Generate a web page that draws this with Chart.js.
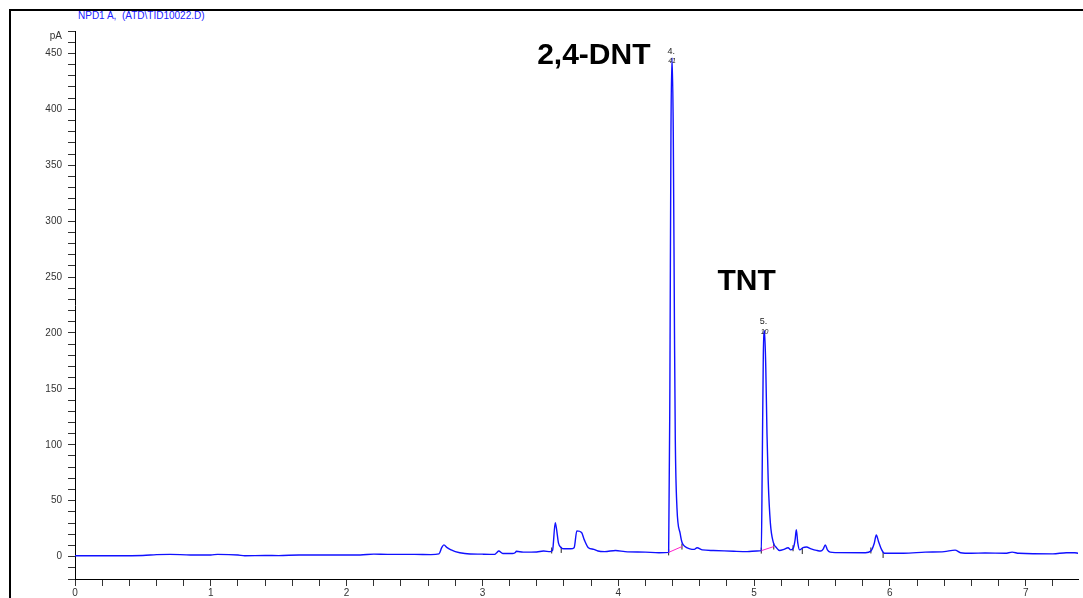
<!DOCTYPE html><html lang="en">
<head>
  <meta charset="UTF-8"/>
  <title>NPD1 A chromatogram</title>
  <script src="https://cdn.jsdelivr.net/npm/chart.js"></script>
  <style>
    *{box-sizing:border-box;margin:0;padding:0}
    body{background:#fff;width:1083px;height:598px;overflow:hidden;position:relative;font-family:'Liberation Sans',Arial,sans-serif}
    #frame{position:absolute;left:9px;top:9px;width:1200px;height:700px;border-left:2px solid #000;border-top:2px solid #000}
    #sig{position:absolute;left:78px;top:11px;font-size:10px;line-height:10px;color:#2020ff;white-space:pre}
    #c{position:absolute;left:0;top:0}
  </style>
</head>
<body>
  <div id="frame"></div>
  <div id="sig">NPD1 A,  (ATD\TID10022.D)</div>
  <canvas id="c" width="1083" height="598"></canvas>
  <script>
    // retention time (min) and detector signal (pA)
    const times = [0,0.3,0.5,0.6,0.7,0.85,1.0,1.05,1.2,1.25,1.4,1.5,1.65,1.9,2.1,2.2,2.3,2.5,2.62,2.68,2.70,2.716,2.74,2.77,2.80,2.87,3.00,3.09,3.105,3.12,3.15,3.22,3.24,3.25,3.30,3.40,3.45,3.50,3.516,3.536,3.545,3.56,3.58,3.60,3.65,3.675,3.695,3.73,3.75,3.78,3.82,3.85,3.90,3.98,4.05,4.20,4.30,4.371,4.380,4.388,4.396,4.405,4.414,4.420,4.432,4.456,4.469,4.491,4.527,4.56,4.58,4.62,4.70,4.85,4.95,5.02,5.053,5.060,5.068,5.077,5.086,5.095,5.104,5.12,5.141,5.165,5.187,5.22,5.25,5.27,5.29,5.302,5.311,5.322,5.335,5.36,5.385,5.42,5.46,5.49,5.51,5.524,5.54,5.56,5.60,5.82,5.86,5.885,5.90,5.915,5.94,5.96,6.1,6.26,6.4,6.48,6.52,6.6,6.7,6.85,6.90,6.95,7.2,7.30,7.36,7.385];
    const signal = [0.8,0.8,1.0,1.8,2.0,1.5,1.5,2.0,1.5,0.8,1.0,0.9,1.5,1.5,1.5,2.2,2.0,2.0,1.8,2.5,8,10.5,8,6,4.5,2.8,2.2,2.0,3.5,5,2.8,2.8,3.5,4.8,4.0,4.2,5.0,4.5,5.5,30.4,25,12,8,7,7,8,23,21.5,15,8,6.5,5,4.5,5.5,4.5,4.0,3.5,3.8,150,380,446,380,200,104,44,20.5,12.8,9,7,6.5,8,6,5.5,4.8,4.5,5,5.4,80,180,202,170,110,68,30,13,8,5.5,6.5,8,6,8,15,24,12,6,8,8.6,7,5.6,5,7,10.5,6,4,3.6,3.5,5,12,19.4,14,6,3,3,4,4.5,5.8,3.5,3,3.2,3,4,3,2.5,3.5,3.5,3];

    // integration baselines (magenta)
    const dntBaseT = [4.371, 4.469];
    const dntBaseV = [3.8, 9];
    const tntBaseT = [5.055, 5.145];
    const tntBaseV = [5.4, 9];

    // integration event marks
    const eventT = [3.51, 3.58, 4.371, 4.469, 5.053, 5.145, 5.287, 5.355, 5.86, 5.95];
    const eventV = [5.5, 6, 3.8, 9, 5.4, 9, 7.5, 5, 5.5, 1.5];

    // axes
    const xMin = 0, xMax = 7.385, xStep = 0.2;
    const yMin = -20, yMax = 470, yStep = 10, yLabelEvery = 50;

    const pts = (xs, ys) => xs.map((x, i) => ({x, y: ys[i]}));
    const isMult = (v, m) => Math.abs(v / m - Math.round(v / m)) < 1e-6;

    // big compound labels + retention time labels
    const textPlugin = {
      id: 'peakText',
      afterDatasetsDraw(chart){
        const {ctx, scales:{x, y}} = chart;
        ctx.save();
        ctx.fillStyle = '#000';
        ctx.textAlign = 'center';
        ctx.textBaseline = 'middle';
        ctx.font = 'bold 30px "Liberation Sans", Arial, sans-serif';
        ctx.fillText('2,4-DNT', x.getPixelForValue(3.82), y.getPixelForValue(447.6));
        ctx.fillText('TNT', x.getPixelForValue(4.945), y.getPixelForValue(245.4));
        ctx.font = '9px "Liberation Sans", Arial, sans-serif';
        ctx.fillStyle = '#222';
        ctx.fillText('4.', x.getPixelForValue(4.39), y.getPixelForValue(452));
        ctx.fillText('5.', x.getPixelForValue(5.07), y.getPixelForValue(210.5));
        ctx.font = 'italic 7px "Liberation Sans", Arial, sans-serif';
        ctx.fillText('41', x.getPixelForValue(4.396), y.getPixelForValue(443));
        ctx.fillText('10', x.getPixelForValue(5.077), y.getPixelForValue(201));
        // unit label at the top of the y axis
        ctx.font = '10px "Liberation Sans", Arial, sans-serif';
        ctx.fillStyle = '#333';
        ctx.textAlign = 'right';
        ctx.fillText('pA', x.left - 13, y.top + 5);
        ctx.restore();
      }
    };

    new Chart(document.getElementById('c'), {
      type: 'scatter',
      data: {
        datasets: [
          {data: pts(dntBaseT, dntBaseV), showLine: true, borderColor: '#ff22cc', borderWidth: 1, pointRadius: 0},
          {data: pts(tntBaseT, tntBaseV), showLine: true, borderColor: '#ff22cc', borderWidth: 1, pointRadius: 0},
          {data: pts(times, signal), showLine: true, borderColor: '#1010ff', borderWidth: 1.4, pointRadius: 0, cubicInterpolationMode: 'monotone'},
          {data: pts(eventT, eventV), showLine: false, pointStyle: 'line', rotation: 90, pointRadius: 3, borderColor: '#222', borderWidth: 1}
        ]
      },
      options: {
        responsive: false,
        devicePixelRatio: 1,
        animation: false,
        layout: {padding: {top: 31, left: 0, right: 0, bottom: 0}},
        plugins: {legend: {display: false}, tooltip: {enabled: false}},
        scales: {
          x: {
            type: 'linear', min: xMin, max: xMax,
            afterFit(s){ s.height = 19; },
            border: {color: '#000', width: 1},
            grid: {drawOnChartArea: false, tickLength: 7, tickColor: '#333'},
            ticks: {
              stepSize: xStep, autoSkip: false, includeBounds: false, maxRotation: 0, padding: 1,
              color: '#333', font: {size: 10, family: '"Liberation Sans", Arial, sans-serif'},
              callback: v => isMult(v, 1) ? String(Math.round(v)) : ''
            }
          },
          y: {
            type: 'linear', min: yMin, max: yMax,
            afterFit(s){ s.width = 75; },
            border: {color: '#000', width: 1},
            grid: {drawOnChartArea: false, tickLength: 7, tickColor: '#333'},
            ticks: {
              stepSize: yStep, autoSkip: false, padding: 6,
              color: '#333', font: {size: 10, family: '"Liberation Sans", Arial, sans-serif'},
              callback: v => isMult(v, yLabelEvery) ? String(Math.round(v)) : ''
            }
          }
        }
      },
      plugins: [textPlugin]
    });
  </script>
</body>
</html>
